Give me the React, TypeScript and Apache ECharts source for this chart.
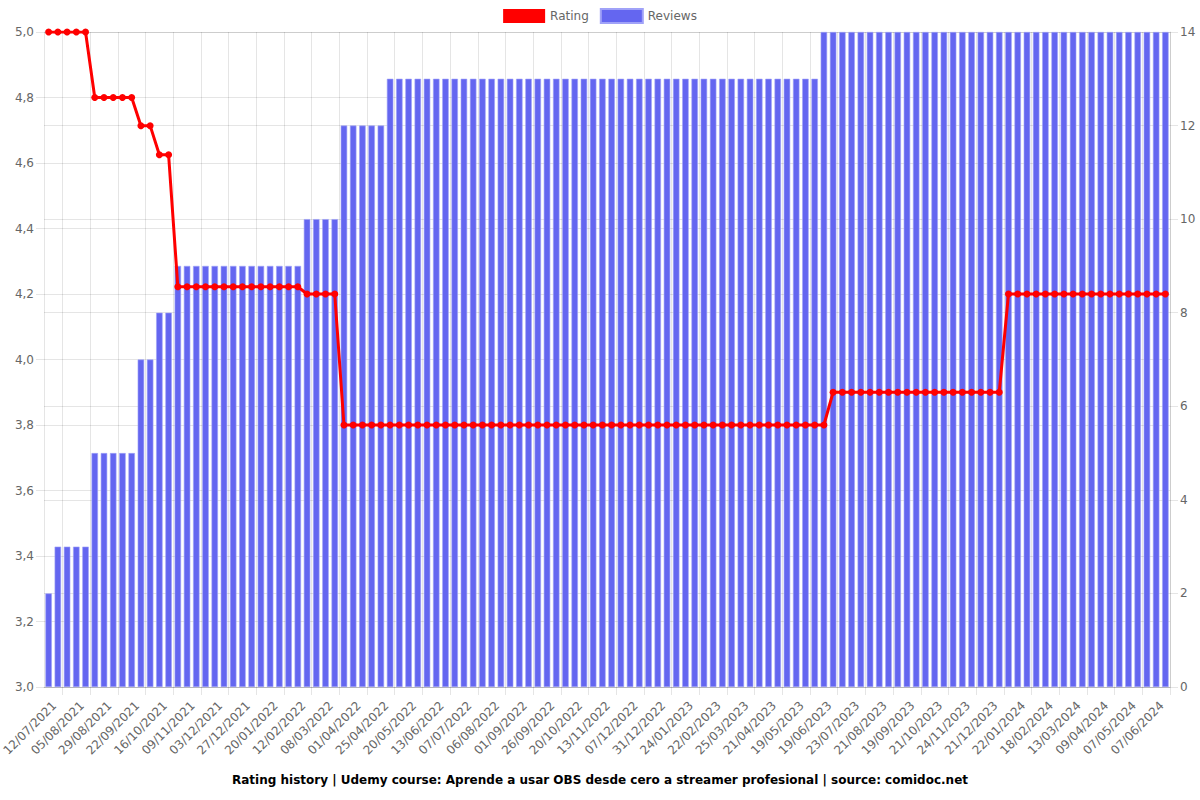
import React, { useEffect, useRef } from "react";
import * as echarts from "echarts";

const dates: string[] = [
  "12/07/2021", "20/07/2021", "28/07/2021",
  "05/08/2021", "13/08/2021", "21/08/2021",
  "29/08/2021", "06/09/2021", "14/09/2021",
  "22/09/2021", "30/09/2021", "08/10/2021",
  "16/10/2021", "24/10/2021", "01/11/2021",
  "09/11/2021", "17/11/2021", "25/11/2021",
  "03/12/2021", "11/12/2021", "19/12/2021",
  "27/12/2021", "04/01/2022", "12/01/2022",
  "20/01/2022", "28/01/2022", "05/02/2022",
  "12/02/2022", "20/02/2022", "28/02/2022",
  "08/03/2022", "16/03/2022", "24/03/2022",
  "01/04/2022", "09/04/2022", "17/04/2022",
  "25/04/2022", "03/05/2022", "11/05/2022",
  "20/05/2022", "28/05/2022", "05/06/2022",
  "13/06/2022", "21/06/2022", "29/06/2022",
  "07/07/2022", "17/07/2022", "27/07/2022",
  "06/08/2022", "14/08/2022", "23/08/2022",
  "01/09/2022", "09/09/2022", "17/09/2022",
  "26/09/2022", "04/10/2022", "12/10/2022",
  "20/10/2022", "28/10/2022", "05/11/2022",
  "13/11/2022", "21/11/2022", "29/11/2022",
  "07/12/2022", "15/12/2022", "23/12/2022",
  "31/12/2022", "08/01/2023", "16/01/2023",
  "24/01/2023", "03/02/2023", "12/02/2023",
  "22/02/2023", "04/03/2023", "15/03/2023",
  "25/03/2023", "03/04/2023", "12/04/2023",
  "21/04/2023", "30/04/2023", "09/05/2023",
  "19/05/2023", "29/05/2023", "09/06/2023",
  "19/06/2023", "30/06/2023", "12/07/2023",
  "23/07/2023", "01/08/2023", "11/08/2023",
  "21/08/2023", "30/08/2023", "09/09/2023",
  "19/09/2023", "29/09/2023", "10/10/2023",
  "21/10/2023", "01/11/2023", "13/11/2023",
  "24/11/2023", "03/12/2023", "12/12/2023",
  "21/12/2023", "01/01/2024", "11/01/2024",
  "22/01/2024", "31/01/2024", "09/02/2024",
  "18/02/2024", "26/02/2024", "05/03/2024",
  "13/03/2024", "22/03/2024", "31/03/2024",
  "09/04/2024", "18/04/2024", "27/04/2024",
  "07/05/2024", "17/05/2024", "27/05/2024",
  "07/06/2024", "17/06/2024",
];

const rating: number[] = [
  5.0, 5.0, 5.0, 5.0, 5.0,
  4.8, 4.8, 4.8, 4.8, 4.8,
  4.714, 4.714,
  4.625, 4.625,
  4.222, 4.222, 4.222, 4.222, 4.222, 4.222, 4.222, 4.222, 4.222, 4.222, 4.222, 4.222, 4.222, 4.222,
  4.2, 4.2, 4.2, 4.2,
  3.8, 3.8, 3.8, 3.8, 3.8, 3.8, 3.8, 3.8, 3.8, 3.8,
  3.8, 3.8, 3.8, 3.8, 3.8, 3.8, 3.8, 3.8, 3.8, 3.8,
  3.8, 3.8, 3.8, 3.8, 3.8, 3.8, 3.8, 3.8, 3.8, 3.8,
  3.8, 3.8, 3.8, 3.8, 3.8, 3.8, 3.8, 3.8, 3.8, 3.8,
  3.8, 3.8, 3.8, 3.8, 3.8, 3.8, 3.8, 3.8, 3.8, 3.8,
  3.8, 3.8, 3.8,
  3.9, 3.9, 3.9, 3.9, 3.9, 3.9, 3.9, 3.9, 3.9, 3.9,
  3.9, 3.9, 3.9, 3.9, 3.9, 3.9, 3.9, 3.9, 3.9,
  4.2, 4.2, 4.2, 4.2, 4.2, 4.2, 4.2, 4.2, 4.2, 4.2,
  4.2, 4.2, 4.2, 4.2, 4.2, 4.2, 4.2, 4.2,
];

const reviews: number[] = [
  2,
  3, 3, 3, 3,
  5, 5, 5, 5, 5,
  7, 7,
  8, 8,
  9, 9, 9, 9, 9, 9, 9, 9, 9, 9, 9, 9, 9, 9,
  10, 10, 10, 10,
  12, 12, 12, 12, 12,
  13, 13, 13, 13, 13, 13, 13, 13, 13, 13,
  13, 13, 13, 13, 13, 13, 13, 13, 13, 13,
  13, 13, 13, 13, 13, 13, 13, 13, 13, 13,
  13, 13, 13, 13, 13, 13, 13, 13, 13, 13,
  13, 13, 13, 13, 13, 13, 13,
  14, 14, 14, 14, 14, 14, 14, 14, 14, 14,
  14, 14, 14, 14, 14, 14, 14, 14, 14, 14,
  14, 14, 14, 14, 14, 14, 14, 14, 14, 14,
  14, 14, 14, 14, 14, 14, 14, 14,
];

const TITLE =
  "Rating history | Udemy course: Aprende a usar OBS desde cero a streamer profesional | source: comidoc.net";

const FONT = "DejaVu Sans";
const GRID_COLOR = "rgba(0,0,0,0.1)";
const LABEL_COLOR = "#666";

export default function App() {
  const ref = useRef<HTMLDivElement>(null);

  useEffect(() => {
    document.body.style.margin = "0";
    if (!ref.current) return;
    const chart = echarts.init(ref.current, undefined, { renderer: "svg" });
    chart.setOption({
      animation: false,
      textStyle: { fontFamily: FONT },
      title: {
        text: TITLE,
        left: "center",
        bottom: 9,
        textStyle: { fontFamily: FONT, fontSize: 12, fontWeight: "bold", color: "#000" },
      },
      legend: {
        top: 3,
        left: "center",
        itemWidth: 42,
        itemHeight: 14,
        itemGap: 11,
        textStyle: { fontFamily: FONT, fontSize: 12, color: LABEL_COLOR },
        data: [
          { name: "Rating", icon: "rect" },
          { name: "Reviews", icon: "rect" },
        ],
      },
      grid: {
        left: 44,
        right: 30,
        top: 32,
        bottom: 113,
        containLabel: false,
        outerBoundsMode: "none",
      },
      xAxis: {
        type: "category",
        data: dates,
        boundaryGap: true,
        axisLine: { show: true, lineStyle: { color: GRID_COLOR } },
        axisTick: {
          show: true,
          length: 8,
          interval: (i: number) => i % 3 === 2,
          lineStyle: { color: GRID_COLOR },
        },
        splitLine: {
          show: true,
          interval: (i: number) => i % 3 === 2,
          lineStyle: { color: GRID_COLOR },
        },
        axisLabel: {
          interval: (i: number) => i % 3 === 0,
          rotate: 45,
          margin: 11,
          verticalAlign: "top",
          padding: [2, 0, 0, 0],
          fontFamily: FONT,
          fontSize: 12,
          color: LABEL_COLOR,
        },
      },
      yAxis: [
        {
          type: "value",
          min: 3,
          max: 5,
          interval: 0.2,
          position: "left",
          axisLine: { show: true, lineStyle: { color: GRID_COLOR } },
          axisTick: { show: true, length: 8, lineStyle: { color: GRID_COLOR } },
          splitLine: { show: true, lineStyle: { color: GRID_COLOR } },
          axisLabel: {
            fontFamily: FONT,
            fontSize: 12,
            color: LABEL_COLOR,
            margin: 10,
            formatter: (v: number) => v.toFixed(1).replace(".", ","),
          },
        },
        {
          type: "value",
          min: 0,
          max: 14,
          interval: 2,
          position: "right",
          axisLine: { show: true, lineStyle: { color: GRID_COLOR } },
          axisTick: { show: true, length: 8, lineStyle: { color: GRID_COLOR } },
          splitLine: { show: true, lineStyle: { color: GRID_COLOR } },
          axisLabel: { fontFamily: FONT, fontSize: 12, color: LABEL_COLOR, margin: 10 },
        },
      ],
      series: [
        {
          name: "Rating",
          type: "line",
          yAxisIndex: 0,
          data: rating,
          z: 5,
          symbol: "circle",
          symbolSize: 7,
          showSymbol: true,
          showAllSymbol: true,
          itemStyle: { color: "#ff0000" },
          lineStyle: { color: "#ff0000", width: 3 },
        },
        {
          name: "Reviews",
          type: "bar",
          yAxisIndex: 1,
          data: reviews,
          z: 2,
          barCategoryGap: "30%",
          itemStyle: {
            color: "#6466F0",
            borderColor: "rgba(160,162,248,1)",
            borderWidth: 0.6,
          },
        },
      ],
    });
    return () => chart.dispose();
  }, []);

  return <div ref={ref} style={{ width: 1200, height: 800 }} />;
}
